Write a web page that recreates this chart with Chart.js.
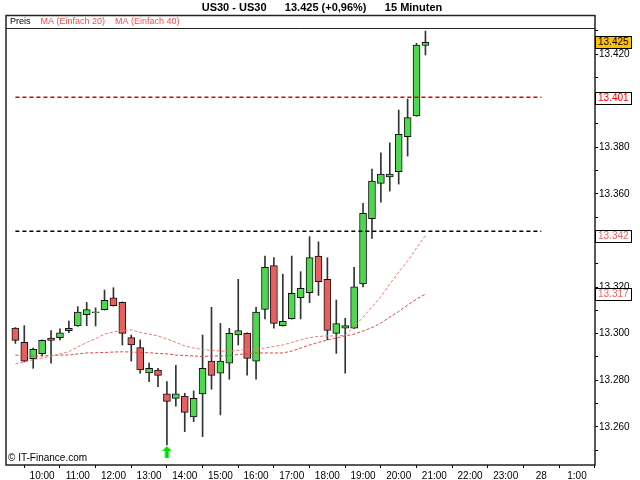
<!DOCTYPE html>
<html>
<head>
<meta charset="utf-8">
<title>US30 - 15 Minuten</title>
<script src="https://cdn.jsdelivr.net/npm/chart.js@4.4.1/dist/chart.umd.min.js"></script>
<style>
  html, body { margin: 0; padding: 0; background: #fff; }
  #chart { display: block; }
</style>
</head>
<body>
<canvas id="chart" width="640" height="480"></canvas>
<script>
// 15-Minuten-Kerzen US30
var times = ['09:15','09:30','09:45','10:00','10:15','10:30','10:45','11:00','11:15','11:30','11:45','12:00',
             '12:15','12:30','12:45','13:00','13:15','13:30','13:45','14:00','14:15','14:30','14:45','15:00',
             '15:15','15:30','15:45','16:00','16:15','16:30','16:45','17:00','17:15','17:30','17:45','18:00',
             '18:15','18:30','18:45','19:00','19:15','19:30','19:45','20:00','20:15','20:30','20:45'];
var opens  = [13.3024,13.2963,13.2892,13.2914,13.2981,13.2983,13.3013,13.3033,13.3081,13.3090,13.3103,13.3154,
              13.3134,13.2983,13.2940,13.2831,13.2844,13.2741,13.2722,13.2732,13.2642,13.2741,13.2882,13.2830,
              13.2873,13.2994,13.3001,13.2882,13.3104,13.3292,13.3034,13.3064,13.3154,13.3176,13.3333,13.3233,
              13.3001,13.3023,13.3023,13.3213,13.3493,13.3645,13.3673,13.3695,13.3845,13.3935,13.4237];
var highs  = [13.3026,13.3034,13.2938,13.2973,13.3013,13.3021,13.3054,13.3116,13.3134,13.3111,13.3187,13.3197,
              13.3136,13.2994,13.2973,13.2873,13.2851,13.2794,13.2864,13.2744,13.2754,13.2994,13.3113,13.3044,
              13.3023,13.3233,13.3003,13.3113,13.3333,13.3326,13.3255,13.3333,13.3266,13.3416,13.3394,13.3326,
              13.3144,13.3066,13.3285,13.3559,13.3706,13.3776,13.3819,13.3960,13.4007,13.4246,13.4299];
var lows   = [13.2958,13.2879,13.2851,13.2904,13.2873,13.2973,13.3004,13.3031,13.3034,13.3033,13.3101,13.3118,
              13.2951,13.2882,13.2830,13.2794,13.2772,13.2522,13.2689,13.2579,13.2622,13.2558,13.2761,13.2651,
              13.2804,13.2951,13.2822,13.2804,13.3063,13.3023,13.3032,13.3062,13.3063,13.3133,13.3164,13.2973,
              13.2915,13.2830,13.3021,13.3200,13.3409,13.3564,13.3612,13.3642,13.3762,13.3933,13.4196];
var closes = [13.2971,13.2882,13.2933,13.2971,13.2971,13.3003,13.3023,13.3092,13.3103,13.3094,13.3143,13.3120,
              13.3001,13.2951,13.2844,13.2851,13.2821,13.2709,13.2741,13.2662,13.2722,13.2851,13.2821,13.2882,
              13.3001,13.3013,13.2894,13.3092,13.3285,13.3044,13.3053,13.3173,13.3194,13.3326,13.3223,13.3014,
              13.3043,13.3034,13.3201,13.3516,13.3655,13.3685,13.3685,13.3855,13.3927,13.4239,13.4250];
var ma20   = [13.2870,13.2878,13.2889,13.2895,13.2904,13.2913,13.2923,13.2943,13.2962,13.2979,13.2998,13.3007,
              13.3013,13.3016,13.3005,13.2998,13.2990,13.2977,13.2962,13.2947,13.2938,13.2932,13.2928,13.2925,
              13.2925,13.2928,13.2932,13.2936,13.2938,13.2945,13.2951,13.2962,13.2973,13.2983,13.2988,13.2990,
              13.2990,13.2994,13.3029,13.3071,13.3114,13.3159,13.3213,13.3264,13.3312,13.3368,13.3421];
var ma40   = [13.2908,13.2906,13.2904,13.2904,13.2906,13.2908,13.2908,13.2913,13.2917,13.2918,13.2919,13.2921,
              13.2922,13.2921,13.2919,13.2918,13.2915,13.2913,13.2908,13.2906,13.2904,13.2902,13.2904,13.2904,
              13.2906,13.2910,13.2914,13.2917,13.2917,13.2917,13.2917,13.2925,13.2938,13.2951,13.2962,13.2973,
              13.2981,13.2990,13.2998,13.3011,13.3026,13.3045,13.3071,13.3095,13.3123,13.3148,13.3170];

// Linien, Markierungen
var levelValues = [13.4015, 13.3440];
var levelColors = ['#e00000', '#000000'];
var levelFrom = '09:15', levelTo = '24:00';
var signalTime = '13:30', signalPrice = 13.2492;

var markerValues = [13.425, 13.401, 13.342, 13.317];
var markerText   = ['13.425', '13.401', '13.342', '13.317'];
var markerFill   = ['#ffc000', '#ffffff', '#ffffff', '#ffffff'];
var markerColor  = ['#000000', '#ff0000', '#f06060', '#f06060'];

// Achsen
var hourTicks  = [10,11,12,13,14,15,16,17,18,19,20,21,22,23,24,25];
var hourLabels = ['10:00','11:00','12:00','13:00','14:00','15:00','16:00','17:00','18:00','19:00','20:00',
                  '21:00','22:00','23:00','28','1:00'];
var priceTicks = [13.25,13.26,13.27,13.28,13.29,13.30,13.31,13.32,13.33,13.34,13.35,13.36,13.37,13.38,
                  13.39,13.40,13.41,13.42,13.43];

var legendNames  = ['Preis', 'MA (Einfach 20)', 'MA (Einfach 40)'];
var legendColors = ['#000000', '#f05050', '#f05050'];

function hours(t) {
    var p = t.split(':');
    return Number(p[0]) + Number(p[1]) / 60;
}

var FONT = "'Liberation Sans', Arial, sans-serif";

// gruener Pfeil
var arrow = document.createElement('canvas');
arrow.width = 9; arrow.height = 12;
var a = arrow.getContext('2d');
a.fillStyle = '#00dd00';
a.beginPath();
a.moveTo(4.5, 0); a.lineTo(9, 5); a.lineTo(6.5, 5); a.lineTo(6.5, 12);
a.lineTo(2.5, 12); a.lineTo(2.5, 5); a.lineTo(0, 5);
a.closePath(); a.fill();

var candleX = times.map(hours);
var bodyColors = opens.map(function (o, i) { return closes[i] >= o ? '#4fd84f' : '#e85f5f'; });

// Rahmen, Legende, Kursboxen
var decor = {
    id: 'decor',
    afterDraw: function (chart) {
        var c = chart.ctx, area = chart.chartArea, y = chart.scales.y;
        c.save();

        // Legende
        c.font = '9px ' + FONT;
        c.textBaseline = 'middle';
        var lx = area.left + 3;
        legendNames.forEach(function (name, i) {
            c.fillStyle = legendColors[i];
            c.fillText(name, lx, 21.5);
            lx += c.measureText(name).width + 10;
        });

        // Rahmen
        c.strokeStyle = '#222';
        c.lineWidth = 1.5;
        c.strokeRect(area.left - 1, 15.5, area.right - area.left + 1, area.bottom - 15.5);
        c.lineWidth = 1;
        c.beginPath();
        c.moveTo(area.left - 1, area.top + 0.5);
        c.lineTo(area.right, area.top + 0.5);
        c.stroke();

        // Copyright
        c.fillStyle = '#000';
        c.font = '10px ' + FONT;
        c.textBaseline = 'alphabetic';
        c.fillText('\u00a9 IT-Finance.com', area.left + 1, area.bottom - 4);

        // Kursboxen
        c.font = '10px ' + FONT;
        c.textBaseline = 'middle';
        markerValues.forEach(function (v, i) {
            var py = Math.round(y.getPixelForValue(v));
            c.fillStyle = markerFill[i];
            c.fillRect(area.right + 0.5, py - 6, 36, 12);
            c.strokeStyle = '#000';
            c.lineWidth = 1;
            c.strokeRect(area.right + 0.5, py - 6 + 0.5, 36, 12);
            c.fillStyle = markerColor[i];
            c.fillText(markerText[i], area.right + 3, py + 0.5);
        });
        c.restore();
    }
};

var ctx = document.getElementById('chart').getContext('2d');
new Chart(ctx, {
    type: 'bar',
    data: {
        datasets: [
            {
                type: 'line', label: 'Widerstand',
                data: [{ x: hours(levelFrom), y: levelValues[0] }, { x: hours(levelTo), y: levelValues[0] }],
                borderColor: levelColors[0], borderDash: [4, 3], borderWidth: 1.5, pointRadius: 0, order: 0
            },
            {
                type: 'line', label: 'Unterstuetzung',
                data: [{ x: hours(levelFrom), y: levelValues[1] }, { x: hours(levelTo), y: levelValues[1] }],
                borderColor: levelColors[1], borderDash: [4, 3], borderWidth: 1.5, pointRadius: 0, order: 0
            },
            {
                type: 'line', label: 'MA (Einfach 20)',
                data: candleX.map(function (x, i) { return { x: x, y: ma20[i] }; }),
                borderColor: '#f27878', borderDash: [3, 2], borderWidth: 1, pointRadius: 0, order: 1
            },
            {
                type: 'line', label: 'MA (Einfach 40)',
                data: candleX.map(function (x, i) { return { x: x, y: ma40[i] }; }),
                borderColor: '#e04444', borderDash: [3, 2], borderWidth: 1, pointRadius: 0, order: 1
            },
            {
                type: 'scatter', label: 'Signal',
                data: [{ x: hours(signalTime), y: signalPrice }],
                pointStyle: arrow, pointRadius: 6, order: 0
            },
            {
                label: 'Preis',
                data: candleX.map(function (x, i) { return { x: x, y: [opens[i], closes[i]] }; }),
                backgroundColor: bodyColors, borderColor: '#111', borderWidth: 1,
                borderSkipped: false, barThickness: 7, grouped: false, order: 2
            },
            {
                label: 'Docht',
                data: candleX.map(function (x, i) { return { x: x, y: [lows[i], highs[i]] }; }),
                backgroundColor: '#333', barThickness: 1, grouped: false, order: 3
            }
        ]
    },
    options: {
        responsive: false,
        devicePixelRatio: 1,
        animation: false,
        layout: { padding: { left: 4, right: 0, top: 0, bottom: 0 } },
        plugins: {
            legend: { display: false },
            tooltip: { enabled: false },
            title: {
                display: true,
                text: 'US30 - US30      13.425 (+0,96%)      15 Minuten',
                color: '#000',
                font: { family: FONT, size: 11, weight: 'bold', lineHeight: 1 },
                padding: { top: 2, bottom: 15 }
            }
        },
        scales: {
            x: {
                type: 'linear',
                min: 9.015, max: 25.505,
                offset: false,
                grid: { display: true, drawOnChartArea: false, drawTicks: true, tickLength: 3, color: '#000' },
                border: { display: false },
                afterBuildTicks: function (scale) {
                    scale.ticks = hourTicks.map(function (v) { return { value: v }; });
                },
                afterFit: function (scale) { scale.height = 15; },
                ticks: {
                    autoSkip: false, maxRotation: 0, padding: 2,
                    color: '#000', font: { family: FONT, size: 10 },
                    callback: function (v, i) { return hourLabels[i]; }
                }
            },
            y: {
                position: 'right',
                min: 13.2436, max: 13.4312,
                grid: { display: true, drawOnChartArea: false, drawTicks: true, tickLength: 3, color: '#000' },
                border: { display: false },
                afterBuildTicks: function (scale) {
                    scale.ticks = priceTicks.map(function (v) { return { value: v }; });
                },
                afterFit: function (scale) { scale.width = 45; },
                ticks: {
                    padding: 1, color: '#000', font: { family: FONT, size: 10 },
                    callback: function (v) {
                        return Math.round(v * 1000) % 20 === 0 ? v.toFixed(3) : '';
                    }
                }
            }
        }
    },
    plugins: [decor]
});
</script>
</body>
</html>
